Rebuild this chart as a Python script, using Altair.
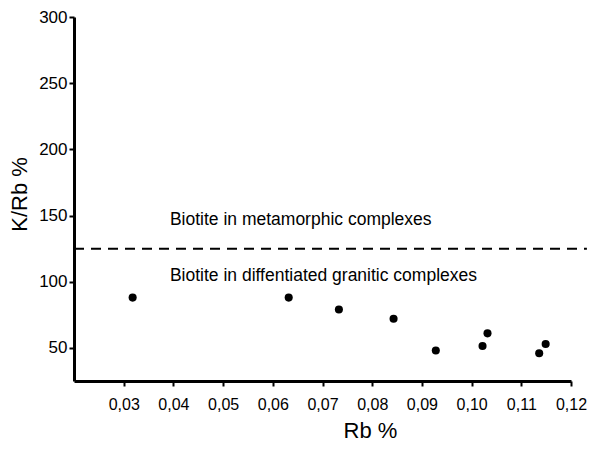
import altair as alt
import pandas as pd

# data
rb = [0.0318, 0.0632, 0.0733, 0.0843, 0.0928, 0.1022, 0.1032, 0.1136, 0.1149]
k_rb = [88, 88, 79, 72, 48, 51.5, 61, 46, 53]

x_ticks = [0.03, 0.04, 0.05, 0.06, 0.07, 0.08, 0.09, 0.10, 0.11, 0.12]
y_ticks = [50, 100, 150, 200, 250, 300]

boundary = 125
labels = ["Biotite in metamorphic complexes", "Biotite in diffentiated granitic complexes"]
label_x = [0.0393, 0.0393]
label_y = [147, 104]

FONT = "Liberation Sans"

pts = pd.DataFrame({"rb": rb, "krb": k_rb})
lab = pd.DataFrame({"x": label_x, "y": label_y, "t": labels})
line = pd.DataFrame({"x": [0.02], "x2": [0.1232], "y": [boundary]})

xs = alt.Scale(domain=[0.02, 0.12], nice=False, zero=False)
ys = alt.Scale(domain=[25, 300], nice=False, zero=False)

xaxis = alt.Axis(values=x_ticks, labelExpr="replace(format(datum.value, '.2f'), '.', ',')",
                 labelOverlap=False, labelFlush=False,
                 title="Rb %", grid=False, domainWidth=3, domainColor="black",
                 tickColor="black", tickWidth=2, tickSize=5, labelFont=FONT, labelFontSize=16,
                 labelColor="black", titleFont=FONT, titleFontSize=22, titleFontWeight="normal",
                 titleColor="black", labelPadding=10, titlePadding=8, titleX=296)
yaxis = alt.Axis(values=y_ticks, title="K/Rb %", grid=False, domainWidth=3, domainColor="black",
                 labelOverlap=False, labelFlush=False,
                 tickColor="black", tickWidth=2, tickSize=5, labelFont=FONT, labelFontSize=17,
                 labelColor="black", titleFont=FONT, titleFontSize=22, titleFontWeight="normal",
                 titleColor="black", labelPadding=2, titlePadding=7, titleY=177)

points = alt.Chart(pts).mark_circle(color="black", opacity=1, size=65).encode(
    x=alt.X("rb:Q", scale=xs, axis=xaxis),
    y=alt.Y("krb:Q", scale=ys, axis=yaxis),
)

dash = alt.Chart(line).mark_rule(color="black", strokeWidth=2, strokeDash=[10, 7], clip=False).encode(
    x=alt.X("x:Q", scale=xs), x2="x2:Q", y=alt.Y("y:Q", scale=ys)
)

text = alt.Chart(lab).mark_text(align="left", baseline="middle", font=FONT, fontSize=17.5,
                                color="black").encode(
    x=alt.X("x:Q", scale=xs), y=alt.Y("y:Q", scale=ys), text="t:N"
)

chart = (alt.layer(dash, text, points)
         .properties(width=497, height=364, padding=0, background="white")
         .configure_view(stroke=None))
chart.save("out.html", embed_options={"renderer": "svg", "actions": False})
